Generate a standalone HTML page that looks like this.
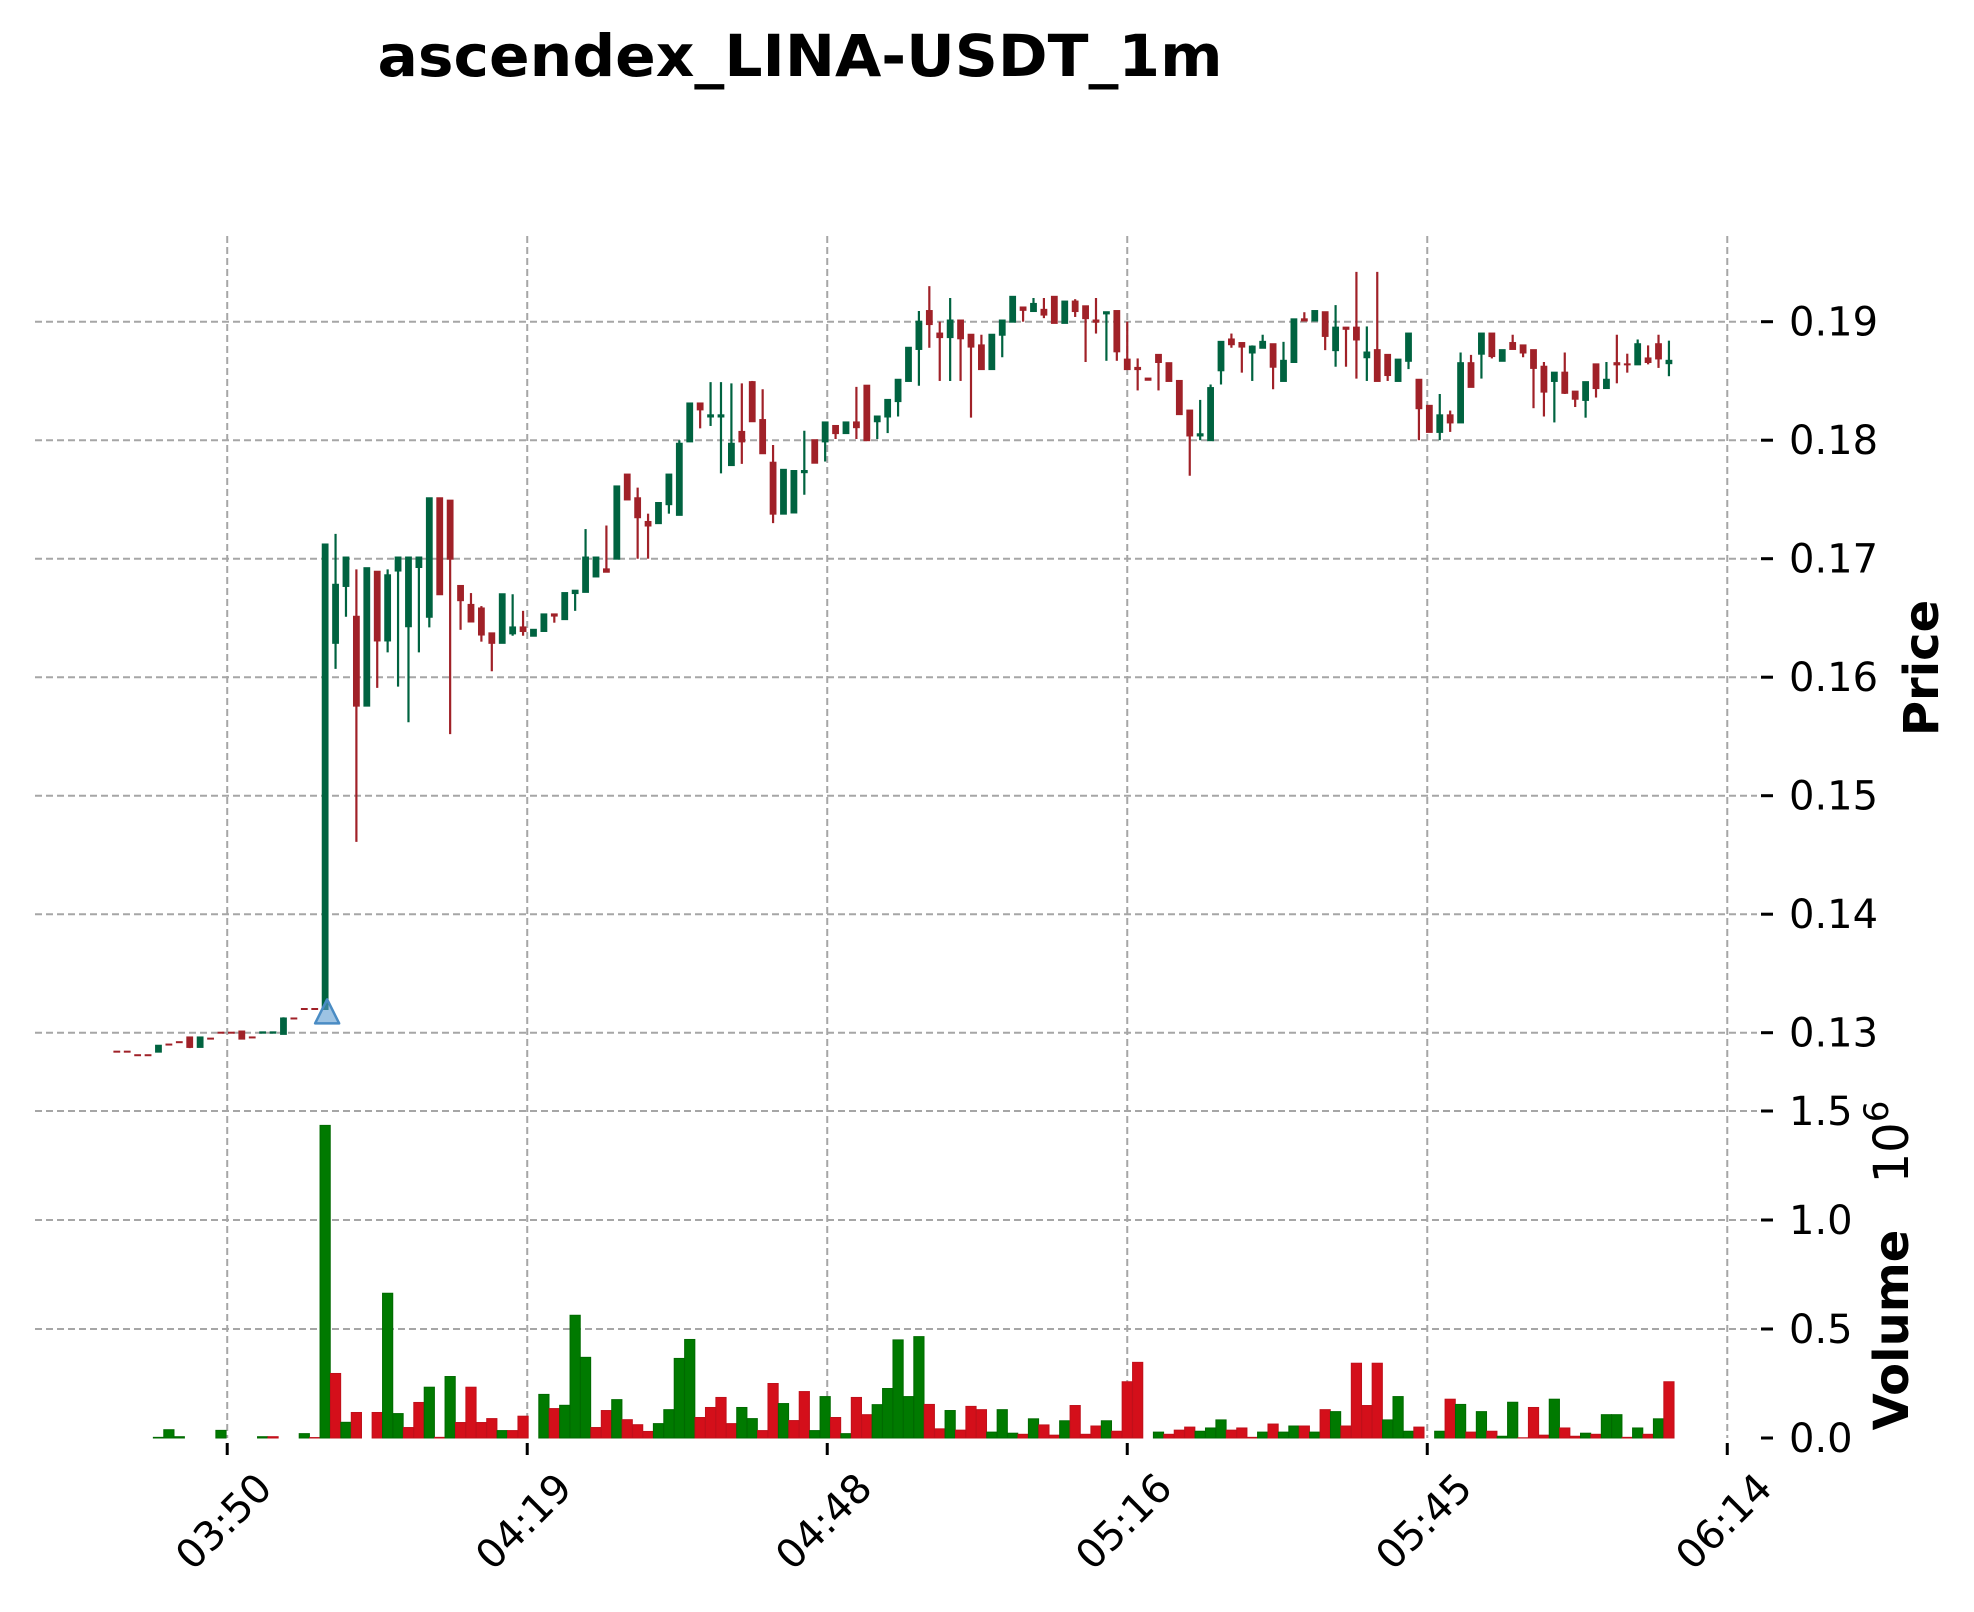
<!DOCTYPE html>
<html><head><meta charset="utf-8">
<style>
html,body{margin:0;padding:0;background:#fff;}
svg{display:block;font-family:"DejaVu Sans","Liberation Sans",sans-serif;}
</style></head>
<body>
<svg id="chart" width="1974" height="1612" viewBox="0 0 1974 1612" xmlns="http://www.w3.org/2000/svg">
<rect width="1974" height="1612" fill="#fff"/>
<text x="800" y="76" text-anchor="middle" font-size="58" font-weight="bold" textLength="845" lengthAdjust="spacingAndGlyphs">ascendex_LINA-USDT_1m</text>
<g id="grid"></g>
<g id="candles"></g>
<g id="volumes"></g>
<g id="axes"></g>
<text transform="translate(1938,668) rotate(-90)" text-anchor="middle" font-size="48" font-weight="bold">Price</text>
<text transform="translate(1908,1330) rotate(-90)" text-anchor="middle" font-size="48" font-weight="bold">Volume</text>
<text transform="translate(1908,1142) rotate(-90)" text-anchor="middle" font-size="48">10<tspan dy="-20" font-size="34">6</tspan></text>
</svg>
<script>
const opens=[.1284,.1284,.1281,.1281,.1284,.1290,.1292,.1296,.1288,.1295,.1300,.1300,.1301,.1296,.1300,.1300,.1299,.1312,.1320,.1320,
.1320,.1629,.1677,.1651,.1576,.1689,.1631,.1690,.1643,.1693,.1651,.1751,.1749,.1677,.1661,.1658,.1637,.1629,.1637,.1642,
.1635,.1639,.1653,.1649,.1671,.1672,.1685,.1691,.1700,.1771,.1751,.1731,.1730,.1746,.1737,.1799,.1831,.1820,.1820,.1779,
.1807,.1849,.1817,.1781,.1738,.1739,.1773,.1800,.1799,.1812,.1806,.1815,.1846,.1816,.1820,.1833,.1850,.1877,.1909,.1890,
.1887,.1901,.1889,.1880,.1860,.1889,.1900,.1912,.1909,.1910,.1921,.1899,.1917,.1913,.1901,.1907,.1909,.1868,.1861,.1852,
.1872,.1865,.1850,.1825,.1804,.1800,.1859,.1885,.1882,.1874,.1878,.1881,.1850,.1866,.1902,.1901,.1908,.1876,.1895,.1895,
.1870,.1876,.1872,.1850,.1867,.1851,.1829,.1807,.1821,.1815,.1865,.1873,.1890,.1867,.1882,.1880,.1876,.1862,.1850,.1857,
.1841,.1834,.1864,.1844,.1865,.1864,.1864,.1869,.1881,.1865];
const highs=[.1284,.1284,.1281,.1281,.1289,.1290,.1292,.1296,.1296,.1295,.1300,.1300,.1301,.1296,.13003,.13003,.1313,.1312,.1320,.1320,
.1712,.1721,.1701,.1691,.1692,.1689,.1691,.1701,.1701,.1701,.1751,.1751,.1749,.1677,.1671,.1660,.1637,.1670,.1670,.1656,
.1640,.1653,.1653,.1671,.1673,.1725,.1701,.1728,.1761,.1771,.1760,.1738,.1747,.1771,.1800,.1831,.1831,.1849,.1849,.1848,
.1848,.1850,.1843,.1796,.1775,.1774,.1808,.1800,.1815,.1812,.1815,.1845,.1846,.1820,.1834,.1851,.1878,.1909,.1930,.1900,
.1920,.1901,.1889,.1889,.1889,.1901,.1921,.1912,.1920,.1920,.1921,.1917,.1919,.1913,.1920,.1908,.1909,.1900,.1869,.1852,
.1872,.1865,.1850,.1825,.1834,.1847,.1883,.1890,.1882,.1880,.1889,.1881,.1883,.1902,.1908,.1909,.1908,.1914,.1895,.1942,
.1896,.1942,.1872,.1868,.1890,.1851,.1829,.1839,.1825,.1874,.1872,.1890,.1890,.1876,.1889,.1880,.1876,.1866,.1857,.1874,
.1841,.1849,.1864,.1866,.1889,.1873,.1885,.1880,.1889,.1884];
const lows=[.1284,.1284,.1281,.1281,.1284,.1290,.1292,.1287,.1288,.1295,.1300,.1300,.1295,.1296,.1300,.1300,.1299,.1312,.1320,.1320,
.1320,.1607,.1651,.1461,.1576,.1591,.1621,.1592,.1562,.1621,.1642,.1670,.1552,.1640,.1647,.1630,.1605,.1629,.1635,.1635,
.1635,.1639,.1646,.1649,.1656,.1672,.1685,.1689,.1700,.1750,.1700,.1700,.1730,.1738,.1737,.1799,.1810,.1812,.1772,.1779,
.1780,.1816,.1789,.1730,.1738,.1739,.1754,.1781,.1782,.1801,.1806,.1801,.1800,.1801,.1806,.1820,.1850,.1846,.1878,.1850,
.1850,.1850,.1819,.1860,.1860,.1870,.1900,.1900,.1909,.1903,.1899,.1899,.1904,.1866,.1890,.1867,.1867,.1860,.1842,.1851,
.1842,.1850,.1822,.1770,.1800,.1800,.1847,.1878,.1857,.1850,.1878,.1843,.1850,.1866,.1901,.1901,.1876,.1862,.1862,.1852,
.1850,.1850,.1850,.1850,.1860,.1800,.1807,.1800,.1807,.1815,.1845,.1852,.1869,.1867,.1877,.1870,.1827,.1820,.1815,.1839,
.1828,.1819,.1836,.1844,.1848,.1857,.1864,.1864,.1861,.1854];
const closes=[.1284,.1284,.1281,.1281,.1289,.1290,.1292,.1288,.1296,.1295,.1300,.1300,.1295,.1296,.13003,.13003,.1312,.1312,.1320,.1320,
.1712,.1678,.1701,.1576,.1692,.1631,.1686,.1701,.1701,.1701,.1751,.1670,.1700,.1665,.1647,.1636,.1629,.1670,.1642,.1639,
.1640,.1653,.1652,.1671,.1673,.1701,.1701,.1689,.1761,.1750,.1735,.1728,.1747,.1771,.1797,.1831,.1826,.1821,.1821,.1797,
.1799,.1816,.1789,.1738,.1775,.1774,.1774,.1781,.1815,.1806,.1815,.1811,.1800,.1820,.1834,.1851,.1878,.1900,.1898,.1887,
.1901,.1886,.1879,.1860,.1889,.1901,.1921,.1910,.1915,.1906,.1899,.1917,.1909,.1903,.1900,.1908,.1875,.1860,.1860,.1851,
.1866,.1850,.1822,.1804,.1805,.1844,.1883,.1881,.1879,.1879,.1883,.1862,.1867,.1902,.1901,.1909,.1888,.1895,.1894,.1885,
.1874,.1850,.1855,.1868,.1890,.1827,.1807,.1821,.1815,.1865,.1845,.1890,.1871,.1876,.1877,.1874,.1861,.1841,.1857,.1840,
.1835,.1849,.1844,.1851,.1864,.1864,.1881,.1866,.1869,.1867];
const volumes=[0,0,0,0,.003,.038,.006,0,0,0,.035,0,0,0,.006,.006,0,0,.02,.002,
1.434,.296,.072,.117,0,.117,.664,.112,.048,.163,.233,.003,.282,.071,.233,.071,.089,.034,.034,.1,
0,.2,.135,.15,.563,.37,.048,.126,.176,.084,.061,.03,.066,.13,.365,.452,.094,.14,.186,.066,
.14,.089,.034,.25,.158,.08,.213,.034,.19,.094,.02,.186,.107,.153,.227,.45,.19,.465,.154,.042,
.126,.036,.145,.13,.027,.13,.022,.017,.088,.06,.013,.079,.149,.017,.055,.079,.031,.258,.347,0,
.027,.017,.036,.05,.031,.046,.083,.036,.046,.003,.027,.064,.027,.055,.055,.027,.13,.121,.055,.343,
.149,.343,.083,.19,.031,.05,0,.031,.178,.154,.027,.121,.031,.008,.164,.001,.14,.013,.178,.046,
.008,.022,.017,.107,.107,.003,.046,.017,.088,.258];
const priceTicks=[0.13,0.14,0.15,0.16,0.17,0.18,0.19];
const priceTickLabels=["0.13","0.14","0.15","0.16","0.17","0.18","0.19"];
const volTicks=[0,0.5,1.0,1.5];
const volTickLabels=["0.0","0.5","1.0","1.5"];
const timeTickIdx=[10.6,39.4,68.2,97.0,125.8,154.6];
const timeTickLabels=["03:50","04:19","04:48","05:16","05:45","06:14"];
const signalIdx=[20];
const signalPrice=[0.1318];

const NS="http://www.w3.org/2000/svg";
function xS(i){return 116.8+10.417*i;}
function yP(p){return 1032.7-(p-0.13)*11850;}
function yV(v){return 1438-v*218;}
function mk(tag,attrs,parent){const e=document.createElementNS(NS,tag);for(const k in attrs)e.setAttribute(k,attrs[k]);parent.appendChild(e);return e;}

const grid=document.getElementById('grid');
const axes=document.getElementById('axes');
const GC="#a6a6a6";
priceTicks.forEach((p,k)=>{
  const y=yP(p);
  const l=mk('line',{x1:35,x2:1757,y1:y,y2:y,stroke:GC,'stroke-width':2,'stroke-dasharray':'7 4'},grid);
  
  
  const t=mk('line',{x1:1761,x2:1773,y1:y,y2:y,stroke:'#000','stroke-width':3},axes);
  
  
  const tx=mk('text',{x:1789,y:y+14,'font-size':40},axes);
  tx.textContent=priceTickLabels[k];
  
  
});
volTicks.forEach((v,k)=>{
  const y=yV(v);
  if(v>0){
    const l=mk('line',{x1:35,x2:1757,y1:y,y2:y,stroke:GC,'stroke-width':2,'stroke-dasharray':'7 4'},grid);
    
    
  }
  const t=mk('line',{x1:1761,x2:1773,y1:y,y2:y,stroke:'#000','stroke-width':3},axes);
  
  
  const tx=mk('text',{x:1789,y:y+14,'font-size':40},axes);
  tx.textContent=volTickLabels[k];
  
  
});
timeTickIdx.forEach((ti,k)=>{
  const x=xS(ti);
  const l=mk('line',{x1:x,x2:x,y1:236,y2:1438,stroke:GC,'stroke-width':2,'stroke-dasharray':'7 4'},grid);
  
  
  const t=mk('line',{x1:x,x2:x,y1:1443,y2:1455,stroke:'#000','stroke-width':3},axes);
  
  
  const tx=mk('text',{transform:`translate(${x-3},1522) rotate(-45)`,'text-anchor':'middle','dominant-baseline':'central','font-size':40},axes);
  tx.textContent=timeTickLabels[k];
  
  
});

const cg=document.getElementById('candles');
const UP="#006340",DN="#a02128";
for(let i=0;i<opens.length;i++){
  const o=opens[i],h=highs[i],l=lows[i],c=closes[i];
  const col=c>o?UP:DN;
  const x=xS(i);
  if(h>Math.max(o,c)||l<Math.min(o,c)){
    const w=mk('line',{x1:x,x2:x,y1:yP(h),y2:yP(l),stroke:col,'stroke-width':2.2},cg);
    
    
  }
  const top=yP(Math.max(o,c)),bot=yP(Math.min(o,c));
  const b=mk('rect',{x:x-3.4,y:top-1,width:6.8,height:Math.max(bot-top,0)+2,fill:col},cg);
  
  
}
signalIdx.forEach((si,k)=>{
  const x=xS(si)+2,y=yP(signalPrice[k]);
  const tr=mk('polygon',{points:`${x},${y-12} ${x-12},${y+12} ${x+12},${y+12}`,fill:'#5b9bd0','fill-opacity':0.6,stroke:'#4a8cc4','stroke-width':2.5,'stroke-linejoin':'round'},cg);
  
  
});

const vg=document.getElementById('volumes');
for(let i=0;i<volumes.length;i++){
  const v=volumes[i];
  if(v<=0)continue;
  const up=i===0?true:closes[i]>closes[i-1];
  const x=xS(i);
  const r=mk('rect',{x:x-5.1,y:yV(v),width:10.2,height:yV(0)-yV(v),fill:up?'#007a00':'#d40f1a',stroke:up?'#006a00':'#c0101a','stroke-width':1},vg);
  
  
}
</script>
</body></html>
